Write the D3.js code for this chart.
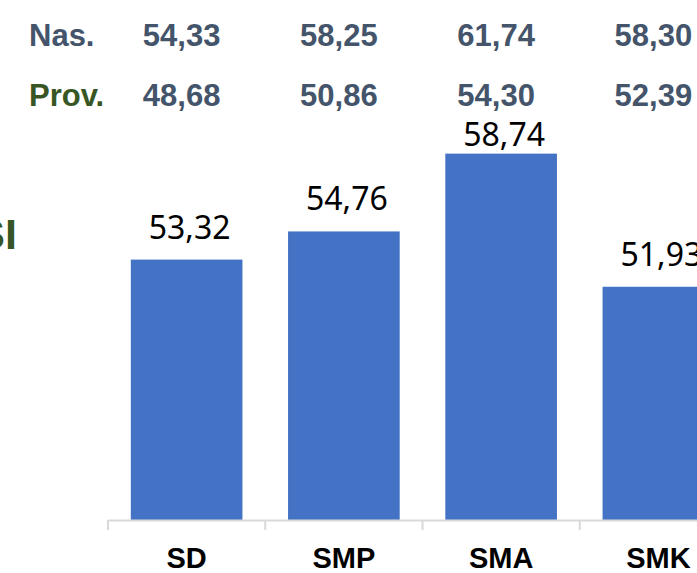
<!DOCTYPE html>
<html>
<head>
<meta charset="utf-8">
<script src="https://cdn.jsdelivr.net/npm/d3@7"></script>
<style>
  body { margin: 0; background: #fff; }
  svg { display: block; }
</style>
</head>
<body>
<div id="chart"></div>
<script>
// data
const categories = ["SD", "SMP", "SMA", "SMK"];
const values = [53.32, 54.76, 58.74, 51.93];
const nasValues = [54.33, 58.25, 61.74, 58.30];
const provValues = [48.68, 50.86, 54.30, 52.39];

const W = 697, H = 573;
const fmt = v => v.toFixed(2).replace(".", ",");

const svg = d3.select("#chart").append("svg")
  .attr("width", W)
  .attr("height", H);

const x = d3.scaleBand().domain(categories).range([108, 737])
  .paddingInner(0.29).paddingOuter(0.145);
const y = d3.scaleLinear().domain([40, 60]).range([520, 129]);

// bars
svg.selectAll(".bar")
  .data(values)
  .enter().append("rect")
  .attr("class", "bar")
  .attr("x", (d, i) => x(categories[i]))
  .attr("y", d => y(d))
  .attr("width", x.bandwidth())
  .attr("height", d => y(40) - y(d))
  .attr("fill", "#4472C4");

// value labels
svg.selectAll(".bar-label")
  .data(values)
  .enter().append("text")
  .attr("class", "bar-label")
  .attr("x", (d, i) => x(categories[i]) + x.bandwidth() / 2 + 3)
  .attr("y", d => Math.max(y(d) - 21, 146))
  .attr("text-anchor", "middle")
  .style("font-family", "'Noto Sans', sans-serif")
  .style("font-size", "32px")
  .attr("fill", "#000")
  .text(d => fmt(d));

// x axis
const axis = svg.append("g")
  .attr("transform", "translate(0,520)")
  .call(d3.axisBottom(x).tickSize(0).tickPadding(27));
axis.select(".domain").attr("stroke", "#D9D9D9").attr("stroke-width", 2);
axis.selectAll("text")
  .style("font-family", "'Liberation Sans', Arial, sans-serif")
  .style("font-size", "29px")
  .style("font-weight", "bold")
  .attr("fill", "#000");

// category boundary ticks
const bounds = d3.range(categories.length + 1).map(i => x.range()[0] + i * x.step());
svg.selectAll(".sep")
  .data(bounds)
  .enter().append("line")
  .attr("x1", d => d).attr("x2", d => d)
  .attr("y1", 520).attr("y2", 530)
  .attr("stroke", "#D9D9D9")
  .attr("stroke-width", 2);

// top rows: national and province
const rowFont = "'Liberation Sans', Arial, sans-serif";
const rows = [
  { label: "Nas.", vals: nasValues, y: 46, color: "#44546A" },
  { label: "Prov.", vals: provValues, y: 106, color: "#375623" }
];
rows.forEach(r => {
  svg.append("text")
    .attr("x", 29).attr("y", r.y)
    .style("font-family", rowFont)
    .style("font-size", "31px")
    .style("font-weight", "bold")
    .attr("fill", r.color)
    .text(r.label);
  svg.selectAll(null)
    .data(r.vals)
    .enter().append("text")
    .attr("x", (d, i) => x(categories[i]) + x.bandwidth() / 2 - 5)
    .attr("y", r.y)
    .attr("text-anchor", "middle")
    .style("font-family", rowFont)
    .style("font-size", "31px")
    .style("font-weight", "bold")
    .attr("fill", "#44546A")
    .text(d => fmt(d));
});

// cut-off label at left edge
svg.append("text")
  .attr("x", 17).attr("y", 249)
  .attr("text-anchor", "end")
  .style("font-family", rowFont)
  .style("font-size", "43px")
  .style("font-weight", "bold")
  .attr("fill", "#375623")
  .text("SI");
</script>
</body>
</html>
